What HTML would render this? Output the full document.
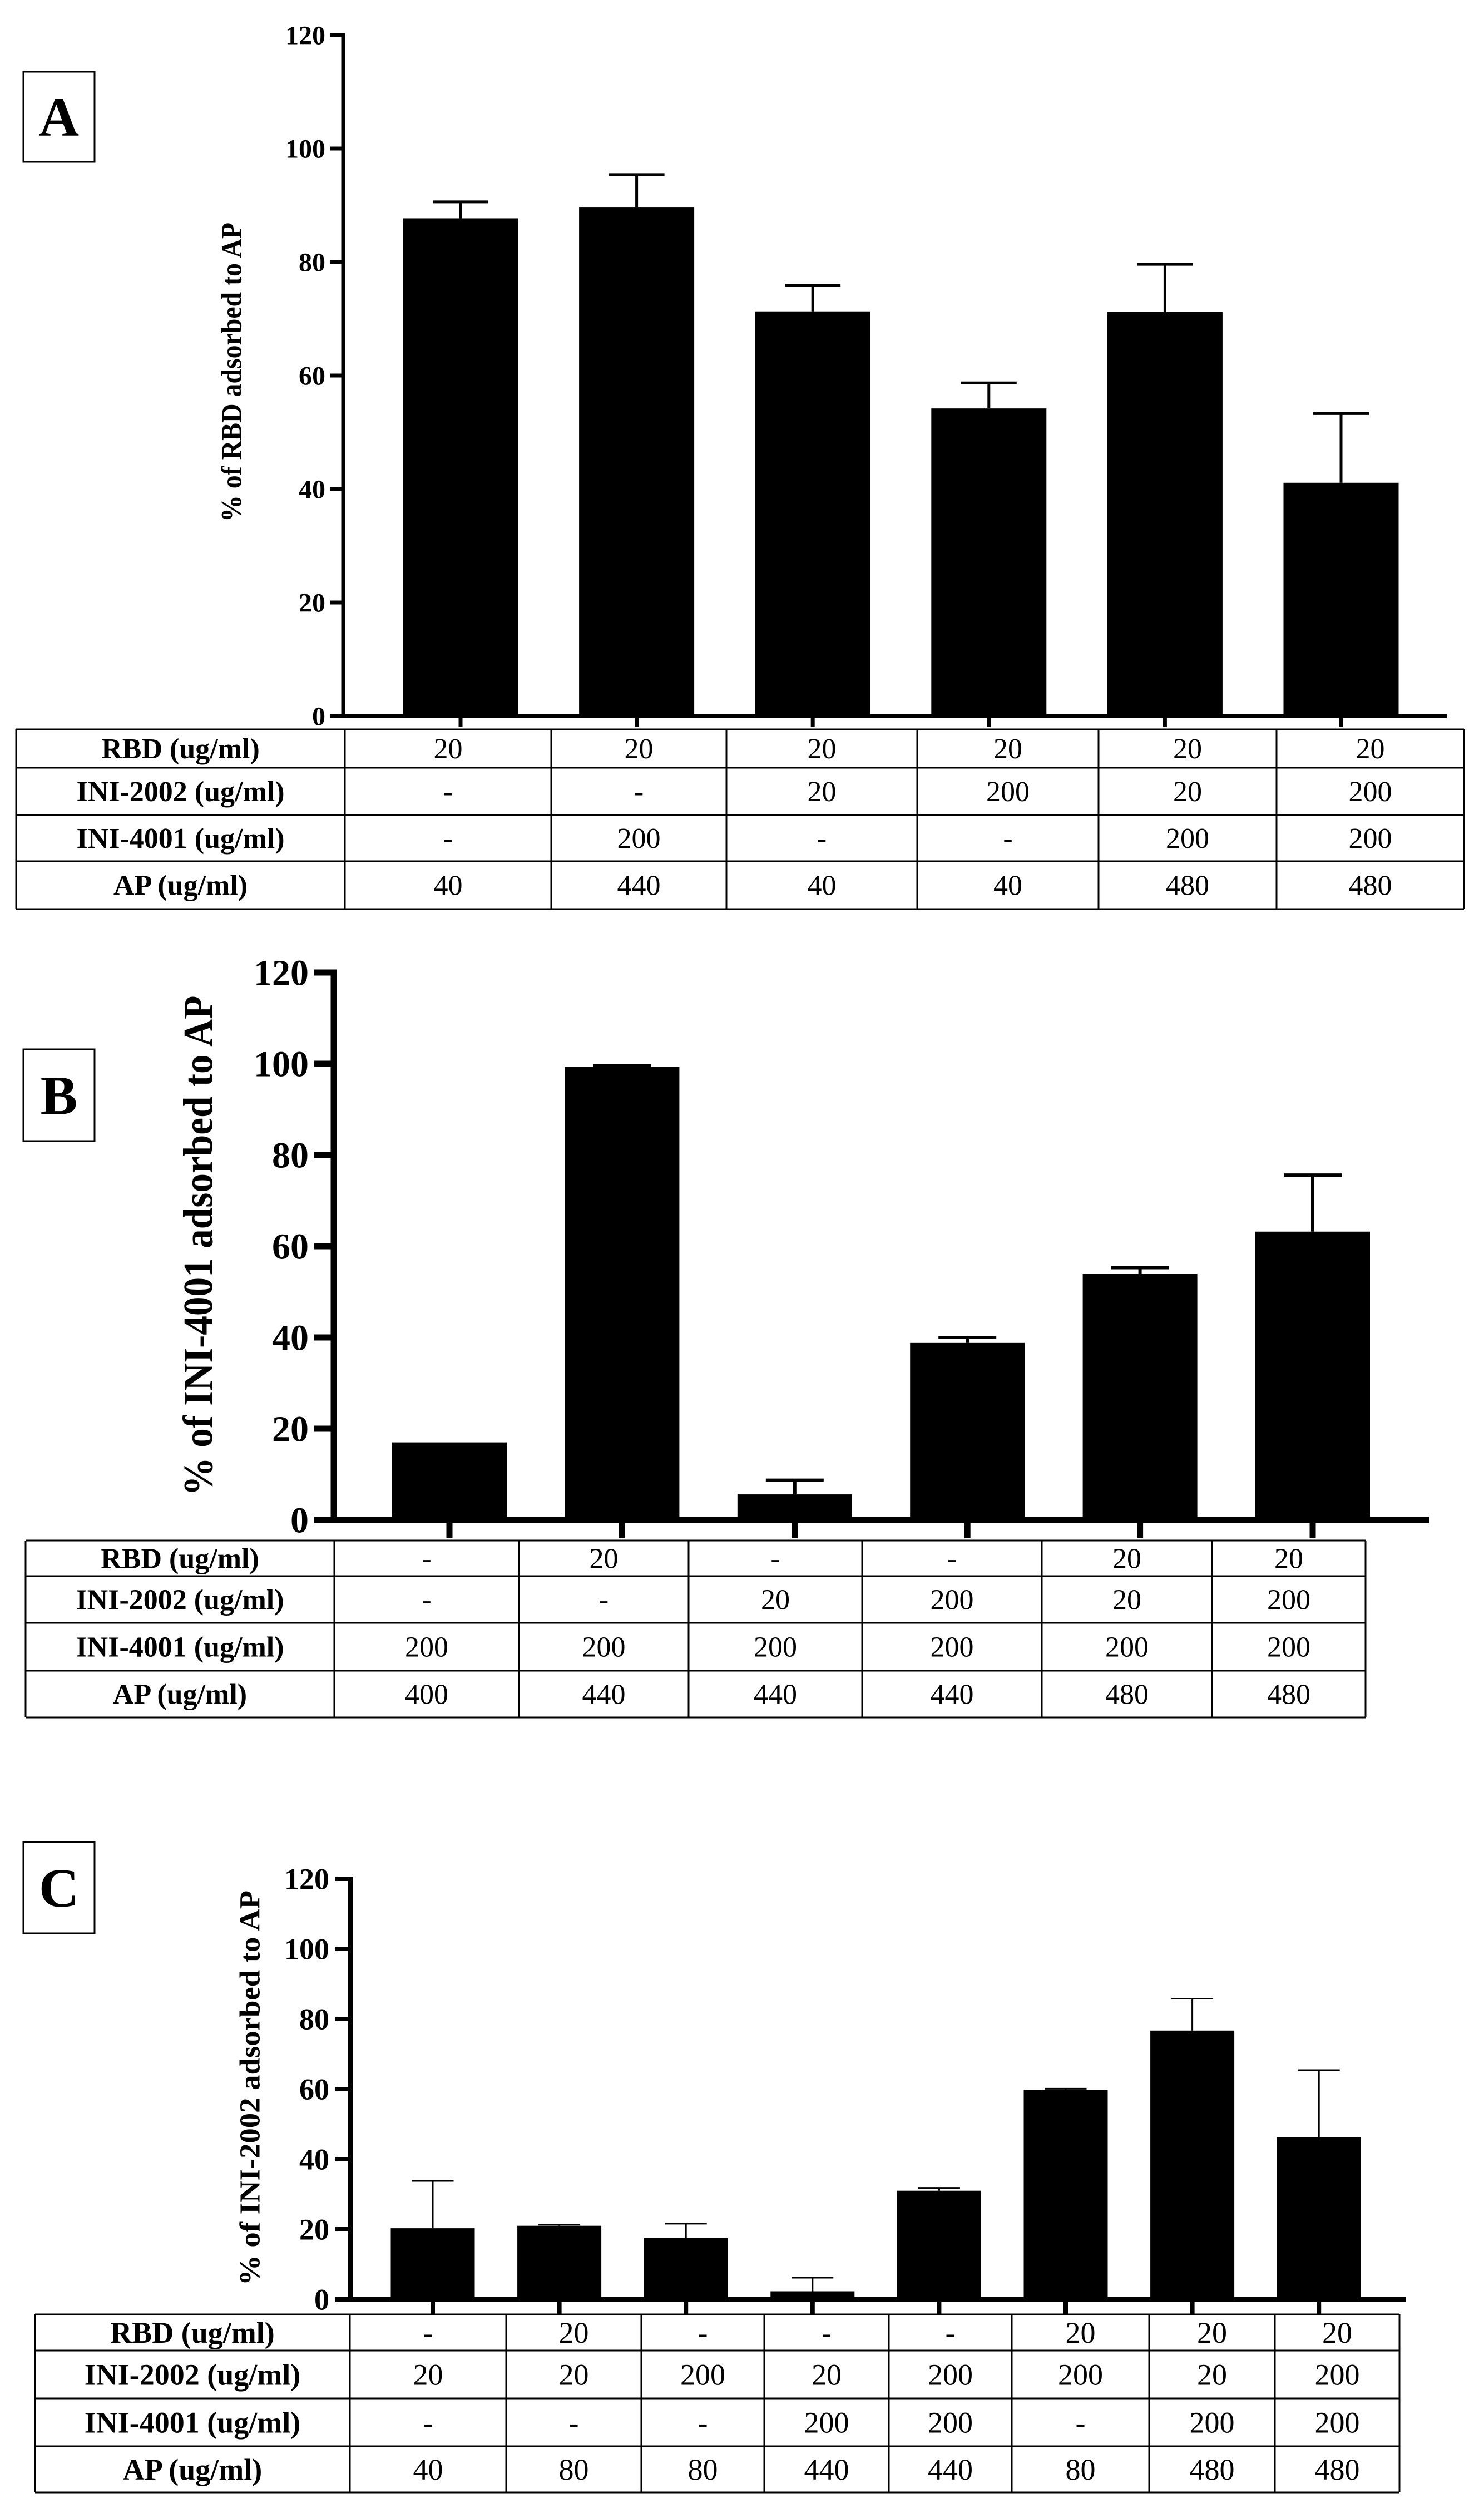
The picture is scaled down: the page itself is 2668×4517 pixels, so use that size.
<!DOCTYPE html>
<html><head><meta charset="utf-8"><style>
html,body{margin:0;padding:0;background:#fff;}
svg{display:block;}
text{font-family:"Liberation Serif",serif;fill:#000;}
</style></head><body>
<svg id="fig" width="2668" height="4517" viewBox="0 0 2668 4517" xmlns="http://www.w3.org/2000/svg"></svg>
<script>
// ---- Panel A data ----
const aValues = [87.7, 89.7, 71.3, 54.2, 71.2, 41.1];
const aErrTop = [90.6, 95.4, 75.9, 58.7, 79.6, 53.3];
const aTicks = [0, 20, 40, 60, 80, 100, 120];
const aRowLabels = ["RBD (ug/ml)", "INI-2002 (ug/ml)", "INI-4001 (ug/ml)", "AP (ug/ml)"];
const aRBD = ["20","20","20","20","20","20"];
const aINI2002 = ["-","-","20","200","20","200"];
const aINI4001 = ["-","200","-","-","200","200"];
const aAP = ["40","440","40","40","480","480"];
// ---- Panel B data ----
const bValues = [17.0, 99.3, 5.6, 38.8, 53.9, 63.2];
const bErrTop = [17.0, 99.6, 8.7, 40.0, 55.3, 75.6];
const bTicks = [0, 20, 40, 60, 80, 100, 120];
const bRBD = ["-","20","-","-","20","20"];
const bINI2002 = ["-","-","20","200","20","200"];
const bINI4001 = ["200","200","200","200","200","200"];
const bAP = ["400","440","440","440","480","480"];
// ---- Panel C data ----
const cValues = [20.3, 21.0, 17.5, 2.3, 31.0, 59.8, 76.7, 46.3];
const cErrTop = [33.8, 21.3, 21.6, 6.2, 31.8, 60.1, 85.8, 65.4];
const cTicks = [0, 20, 40, 60, 80, 100, 120];
const cRBD = ["-","20","-","-","-","20","20","20"];
const cINI2002 = ["20","20","200","20","200","200","20","200"];
const cINI4001 = ["-","-","-","200","200","-","200","200"];
const cAP = ["40","80","80","440","440","80","480","480"];

const NS = "http://www.w3.org/2000/svg";
const svg = document.getElementById('fig');
function mk(tag, attrs, parent){
  const e = document.createElementNS(NS, tag);
  for (const k in attrs) e.setAttribute(k, attrs[k]);
  (parent||svg).appendChild(e);
  return e;
}

function panel(cfg){
  const g = mk('g', {});
  
  
  const y = v => cfg.y0 - (v - 0) * (cfg.y0 - cfg.y120) / 120;
  const x = i => cfg.c0 + i * cfg.step;

  // letter box
  const box = mk('rect', {x:42, y:cfg.boxY, width:128, height:cfg.boxH, fill:'#fff', stroke:'#000', 'stroke-width':3}, g);
  
  
  const lt = mk('text', {x:106, y:cfg.boxY + cfg.boxH/2 + 34, 'font-size':100, 'font-weight':'bold', 'text-anchor':'middle'}, g);
  lt.textContent = cfg.letter;
  
  

  // bars + error bars
  cfg.values.forEach((v, i) => {
    const cx = x(i);
    const b = mk('rect', {x:cx - cfg.bw/2, y:y(v), width:cfg.bw, height:y(0) - y(v), fill:'#000'}, g);
    
    
    const et = cfg.err[i];
    if (et > v + 0.05) {
      const l = mk('line', {x1:cx, x2:cx, y1:y(v), y2:y(et), stroke:'#000', 'stroke-width':cfg.ew}, g);
      
      
      const c = mk('line', {x1:cx - cfg.cap/2, x2:cx + cfg.cap/2, y1:y(et), y2:y(et), stroke:'#000', 'stroke-width':cfg.ew}, g);
      
      
    } else if (et > v) {
      const c = mk('line', {x1:cx - cfg.cap/2, x2:cx + cfg.cap/2, y1:y(et), y2:y(et), stroke:'#000', 'stroke-width':cfg.ew}, g);
      
      
    }
    const t = mk('line', {x1:cx, x2:cx, y1:y(0), y2:y(0) + cfg.tickDown, stroke:'#000', 'stroke-width':cfg.aw}, g);
    
    
  });

  // axes
  const ya = mk('line', {x1:cfg.ax, x2:cfg.ax, y1:y(120) - cfg.aw/2, y2:y(0) + cfg.aw/2, stroke:'#000', 'stroke-width':cfg.aw}, g);
  
  
  const xa = mk('line', {x1:cfg.ax - cfg.tl, x2:cfg.axEnd, y1:y(0), y2:y(0), stroke:'#000', 'stroke-width':cfg.aw}, g);
  
  
  cfg.ticks.forEach(tv => {
    const tk = mk('line', {x1:cfg.ax - cfg.tl, x2:cfg.ax, y1:y(tv), y2:y(tv), stroke:'#000', 'stroke-width':cfg.aw}, g);
    
    
    const tt = mk('text', {x:cfg.tlx, y:y(tv) + cfg.tfs*0.34, 'font-size':cfg.tfs, 'font-weight':'bold', 'text-anchor':'end'}, g);
    tt.textContent = String(tv);
    
    
  });

  // y-axis title
  const yt = mk('text', {x:0, y:0, 'font-size':cfg.yfs, 'font-weight':'bold', 'text-anchor':'middle', 'dominant-baseline':'central',
    textLength:cfg.ylen, lengthAdjust:'spacingAndGlyphs', transform:'translate(' + cfg.ytx + ',' + cfg.yty + ') rotate(-90)'}, g);
  yt.textContent = cfg.ytitle;
  
  

  // table
  const tg = mk('g', {}, g);
  
  
  const rows = cfg.rowsY, cols = cfg.colsX;
  const L = cols[0], R = cols[cols.length-1], T = rows[0], B = rows[rows.length-1];
  rows.forEach(ry => mk('line', {x1:L, x2:R, y1:ry, y2:ry, stroke:'#000', 'stroke-width':3}, tg));
  cols.forEach(cxx => mk('line', {x1:cxx, x2:cxx, y1:T, y2:B, stroke:'#000', 'stroke-width':3}, tg));
  const data = cfg.table;
  for (let r = 0; r < 4; r++) {
    const cy = (rows[r] + rows[r+1]) / 2 + cfg.tbfs * 0.34;
    const lab = mk('text', {x:(cols[0]+cols[1])/2, y:cy, 'font-size':cfg.tbfs, 'font-weight':'bold', 'text-anchor':'middle'}, tg);
    lab.textContent = aRowLabels[r];
    
    
    data[r].forEach((val, i) => {
      const tc = mk('text', {x:(cols[i+1]+cols[i+2])/2, y:cy, 'font-size':cfg.tbfs, 'text-anchor':'middle'}, tg);
      tc.textContent = val;
      
      
    });
  }
}

panel({id:'a', letter:'A', boxY:129, boxH:162, y0:1287, y120:63, c0:828, step:316.6, bw:207,
  values:aValues, err:aErrTop, ticks:aTicks, ew:5, cap:100, aw:7, tickDown:20, ax:617, axEnd:2601, tl:24,
  tlx:585, tfs:48, yfs:52, ylen:538, ytx:417, yty:669, ytitle:'% of RBD adsorbed to AP',
  rowsY:[1311,1380,1465,1548,1634], colsX:[29,620,991,1306,1649,1975,2295,2632], tbfs:52,
  table:[aRBD, aINI2002, aINI4001, aAP]});

panel({id:'b', letter:'B', boxY:1886, boxH:165, y0:2732, y120:1748, c0:808, step:310.4, bw:206,
  values:bValues, err:bErrTop, ticks:bTicks, ew:6, cap:104, aw:11, tickDown:33, ax:600, axEnd:2570, tl:35,
  tlx:555, tfs:66, yfs:75, ylen:899, ytx:357, yty:2239, ytitle:'% of INI-4001 adsorbed to AP',
  rowsY:[2769,2833,2917,3003,3087], colsX:[46,601,933,1238,1550,1873,2179,2455], tbfs:52,
  table:[bRBD, bINI2002, bINI4001, bAP]});

panel({id:'c', letter:'C', boxY:3311, boxH:164, y0:4133, y120:3377, c0:778, step:227.6, bw:151,
  values:cValues, err:cErrTop, ticks:cTicks, ew:3, cap:75, aw:8, tickDown:27, ax:630, axEnd:2528, tl:28,
  tlx:592, tfs:54, yfs:52, ylen:710, ytx:450, yty:3753, ytitle:'% of INI-2002 adsorbed to AP',
  rowsY:[4160,4225,4311,4397,4480], colsX:[63,629,910,1153,1374,1598,1819,2066,2292,2516], tbfs:54,
  table:[cRBD, cINI2002, cINI4001, cAP]});
</script>
</body></html>
